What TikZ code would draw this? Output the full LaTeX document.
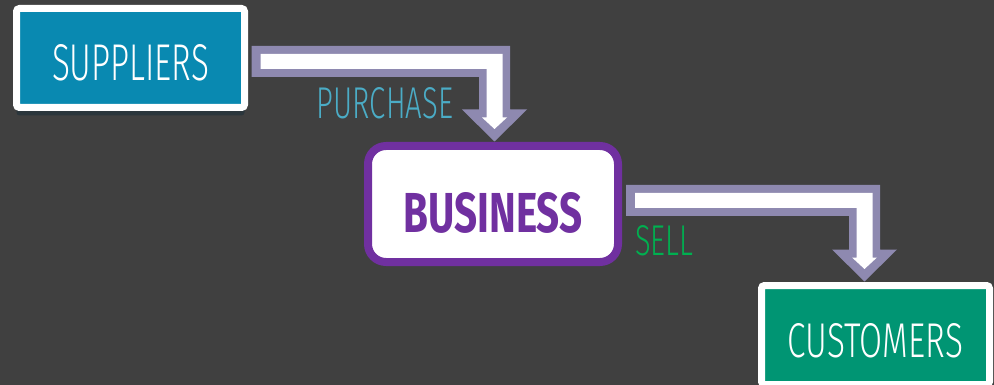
\documentclass[tikz,border=0pt]{standalone}
\usepackage{fontspec}
\usepackage{graphicx}
\usetikzlibrary{calc,shadows}
\newfontfamily\agency{Fira Sans}[UprightFont=* Light, BoldFont=* Bold]
\definecolor{bgc}{RGB}{64,64,64}
\definecolor{supteal}{RGB}{9,137,177}
\definecolor{buspurple}{RGB}{112,48,160}
\definecolor{custgreen}{RGB}{0,149,115}
\definecolor{arrowgray}{RGB}{142,137,176}
\definecolor{purchasec}{RGB}{75,172,198}
\definecolor{sellc}{RGB}{0,176,80}
\definecolor{shadowc}{RGB}{38,52,60}
\tikzset{
  whitebox/.style={draw=white, line width=7pt, rounded corners=3pt, inner sep=0pt,
    minimum width=228pt, minimum height=99pt, text=white, text depth=0pt,
    drop shadow={shadow xshift=0pt, shadow yshift=-8pt, fill=shadowc, opacity=0.8}},
  busbox/.style={draw=buspurple, fill=white, line width=8pt, rounded corners=18pt, inner sep=0pt,
    minimum width=250pt, minimum height=116pt, text=buspurple, text depth=0pt},
  flowlabel/.style={inner sep=0pt, text depth=0pt}
}
\newcommand{\fatarrow}[2]{%
  \fill[arrowgray] ($(#1)+(0,-15.5)$) -| ($(#2)+(15.5,-28.5)$) -- ($(#2)+(32.5,-28.5)$)
    -- ($(#2)+(0,3.5)$) -- ($(#2)+(-32.5,-28.5)$) -- ($(#2)+(-15.5,-28.5)$)
    |- ($(#1)+(0,15.5)$) -- cycle;
  \fill[white] ($(#1)+(9,-7.5)$) -| ($(#2)+(8,-20.5)$) -- ($(#2)+(12.5,-20.5)$)
    -- ($(#2)+(0,-9)$) -- ($(#2)+(-12.5,-20.5)$) -- ($(#2)+(-8,-20.5)$)
    |- ($(#1)+(9,7.5)$) -- cycle;}
\begin{document}
\begin{tikzpicture}[x=1pt,y=-1pt]
\useasboundingbox (0,0) rectangle (994,385);
\clip (0,0) rectangle (994,385);
\fill[bgc] (0,0) rectangle (994,385);

\node[whitebox, fill=supteal, text height=46pt] (sup) at (130.5,58)
  {\resizebox{157pt}{36pt}{\agency SUPPLIERS}};
\node[busbox, text height=56pt] (bus) at (493,204)
  {\resizebox{179pt}{40pt}{\agency\bfseries BUSINESS}};
\node[whitebox, fill=custgreen, text height=44pt] (cust) at (875.5,335)
  {\resizebox{175pt}{34pt}{\agency CUSTOMERS}};

\coordinate (a1s) at ($(sup.east)+(3.5,3.5)$);
\coordinate (a1e) at ($(bus.north)+(1.5,-4)$);
\coordinate (a2s) at ($(bus.east)+(4,-3.5)$);
\coordinate (a2e) at ($(cust.north)+(-11,-4)$);
\fatarrow{a1s}{a1e}
\fatarrow{a2s}{a2e}

\node[flowlabel, text=purchasec] (purchase) at (385,102.5)
  {\resizebox{136pt}{31pt}{\agency PURCHASE}};
\node[flowlabel, text=sellc] (sell) at (664,240)
  {\resizebox{58pt}{30pt}{\agency SELL}};
\end{tikzpicture}
\end{document}
